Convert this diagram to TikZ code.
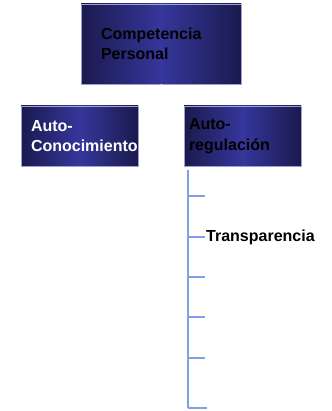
\documentclass[tikz,border=0pt]{standalone}
\usepackage{fontspec}
\setmainfont{Liberation Sans}
\definecolor{cajaoscuro}{RGB}{26,26,78}
\definecolor{cajamedio}{RGB}{54,54,156}
\definecolor{cajaborde}{RGB}{160,160,205}
\definecolor{rama}{RGB}{126,160,228}
\begin{document}
\begin{tikzpicture}[x=1pt, y=-1pt,
    every node/.style={font=\fontsize{16}{20.5}\selectfont\bfseries},
    caja/.style={rectangle, draw=cajaborde, line width=0.5pt,
      left color=cajaoscuro, right color=cajaoscuro, middle color=cajamedio,
      align=left, inner ysep=0pt},
    ramal/.style={draw=rama, line width=2pt}]
    \useasboundingbox (0,0) rectangle (331,411);

    % cajas
    \node[caja, minimum width=160pt, minimum height=80pt, text width=120pt,
          inner xsep=20pt] (comp) at (161,44) {Competencia\\Personal};
    \node[caja, text=white, minimum width=117pt, minimum height=60pt,
          text width=97pt, inner xsep=10pt] (auto) at (79.5,136) {Auto-\\Conocimiento};
    \node[caja, minimum width=117pt, minimum height=60pt, text width=107pt,
          inner xsep=5pt] (regu) at (242.5,136) {Auto-\\regulación};

    % conector bajo la caja superior
    \coordinate (baja) at ([yshift=-4pt]comp.south);
    \draw[white, line width=1pt] (comp.south) -- (baja);

    % tronco
    \coordinate (t0) at (188,170);
    \coordinate (t6) at (188,408);
    \draw[ramal] (t0) -- (t6);

    % ramas
    \coordinate (r1) at (205,196);
    \coordinate (r2) at (205,237);
    \coordinate (r3) at (205,277);
    \coordinate (r4) at (205,317);
    \coordinate (r5) at (205,358);
    \coordinate (r6) at (207,408);
    \draw[ramal] (r1 -| t0) -- (r1);
    \draw[ramal] (r2 -| t0) -- (r2);
    \draw[ramal] (r3 -| t0) -- (r3);
    \draw[ramal] (r4 -| t0) -- (r4);
    \draw[ramal] (r5 -| t0) -- (r5);
    \draw[ramal] (t6) -- (r6);

    \node[anchor=west, inner sep=1pt] (trans) at (r2) {Transparencia};
\end{tikzpicture}
\end{document}
